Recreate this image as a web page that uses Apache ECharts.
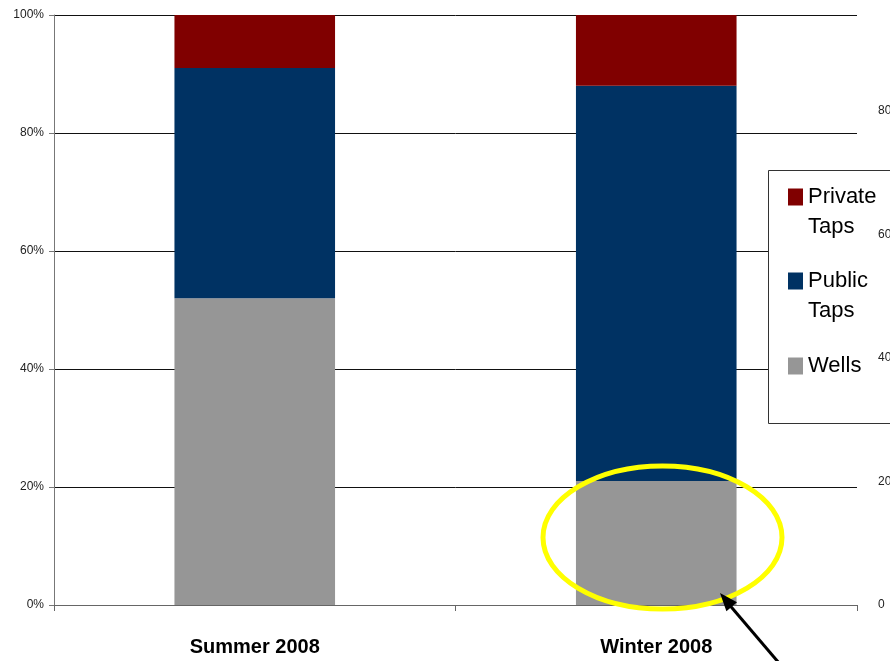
<!DOCTYPE html>
<html><head><meta charset="utf-8">
<script src="https://cdn.jsdelivr.net/npm/echarts@6/dist/echarts.min.js"></script>
<style>html,body{margin:0;padding:0;background:#fff}#c{width:890px;height:661px}</style>
</head><body><div id="c"></div>
<script>
const categories = ['Summer 2008', 'Winter 2008'];
const wells = [52, 21];
const publicTaps = [39, 67];
const privateTaps = [9, 12];
const yTicksPct = [0, 20, 40, 60, 80, 100];
const rightTicks = [0, 20, 40, 60, 80];

const SANS = "'Liberation Sans Narrow','Arial Narrow','Liberation Sans',Arial,sans-serif";
const chart = echarts.init(document.getElementById('c'), null, {renderer: 'canvas'});

const legendBase = {
  orient: 'vertical', left: 788, padding: 0, itemWidth: 15, itemHeight: 17,
  icon: 'rect', selectedMode: false, z: 6,
  textStyle: {fontFamily: SANS, fontSize: 22, color: '#000', lineHeight: 30}
};

chart.setOption({
  animation: false,
  backgroundColor: '#fff',
  grid: {left: 54, right: 33, top: 15, bottom: 56, containLabel: false, outerBoundsMode: 'none'},
  xAxis: {type: 'category', data: categories,
     axisLine: {lineStyle: {color: '#666', width: 1}},
     axisTick: {show: true, length: 6, lineStyle: {color: '#666'}},
     axisLabel: {fontFamily: SANS, fontWeight: 'bold', fontSize: 20, color: '#000', margin: 32}},
  yAxis: [
    {type: 'value', min: 0, max: 100, interval: 20,
     axisLine: {show: true, lineStyle: {color: '#777'}},
     axisTick: {show: true, length: 5, lineStyle: {color: '#777'}},
     splitLine: {show: true, lineStyle: {color: '#111', width: 1}},
     axisLabel: {formatter: v => yTicksPct.includes(v) ? v + '%' : '', fontFamily: "'Liberation Sans',Arial,sans-serif",
       fontSize: 12, color: '#222', margin: 10}},
    {type: 'value', position: 'right', min: 0, max: 95.5, interval: 20, z: 6,
     axisLine: {show: false}, axisTick: {show: false}, splitLine: {show: false},
     axisLabel: {formatter: v => rightTicks.includes(v) ? String(v) : '', fontFamily: "'Liberation Sans',Arial,sans-serif",
       fontSize: 12, color: '#222', margin: 21, showMaxLabel: false}}
  ],
  legend: [
    Object.assign({}, legendBase, {top: 152, data: ['Private Taps'], formatter: () => '\nPrivate\nTaps'}),
    Object.assign({}, legendBase, {top: 236, data: ['Public Taps'], formatter: () => '\nPublic\nTaps'}),
    Object.assign({}, legendBase, {top: 351, data: ['Wells']})
  ],
  series: [
    {name: 'Wells', type: 'bar', stack: 'a', data: wells, barWidth: '40%', itemStyle: {color: '#969696'}},
    {name: 'Public Taps', type: 'bar', stack: 'a', data: publicTaps, barWidth: '40%', itemStyle: {color: '#003263'}},
    {name: 'Private Taps', type: 'bar', stack: 'a', data: privateTaps, barWidth: '40%', itemStyle: {color: '#800000'}}
  ],
  graphic: [
    {type: 'rect', z: 4, shape: {x: 768.5, y: 170.5, width: 140, height: 253},
     style: {fill: '#fff', stroke: '#333', lineWidth: 1}},
    {type: 'ellipse', z: 100, shape: {cx: 662.5, cy: 537.5, rx: 119.5, ry: 71.5},
     style: {fill: 'none', stroke: '#ffff00', lineWidth: 5}},
    {type: 'line', z: 101, shape: {x1: 779, y1: 663, x2: 727, y2: 602},
     style: {stroke: '#000', lineWidth: 3}},
    {type: 'polygon', z: 101, shape: {points: [[720, 593], [726.4, 611.2], [737.0, 602.2]]},
     style: {fill: '#000'}}
  ]
});
</script></body></html>
